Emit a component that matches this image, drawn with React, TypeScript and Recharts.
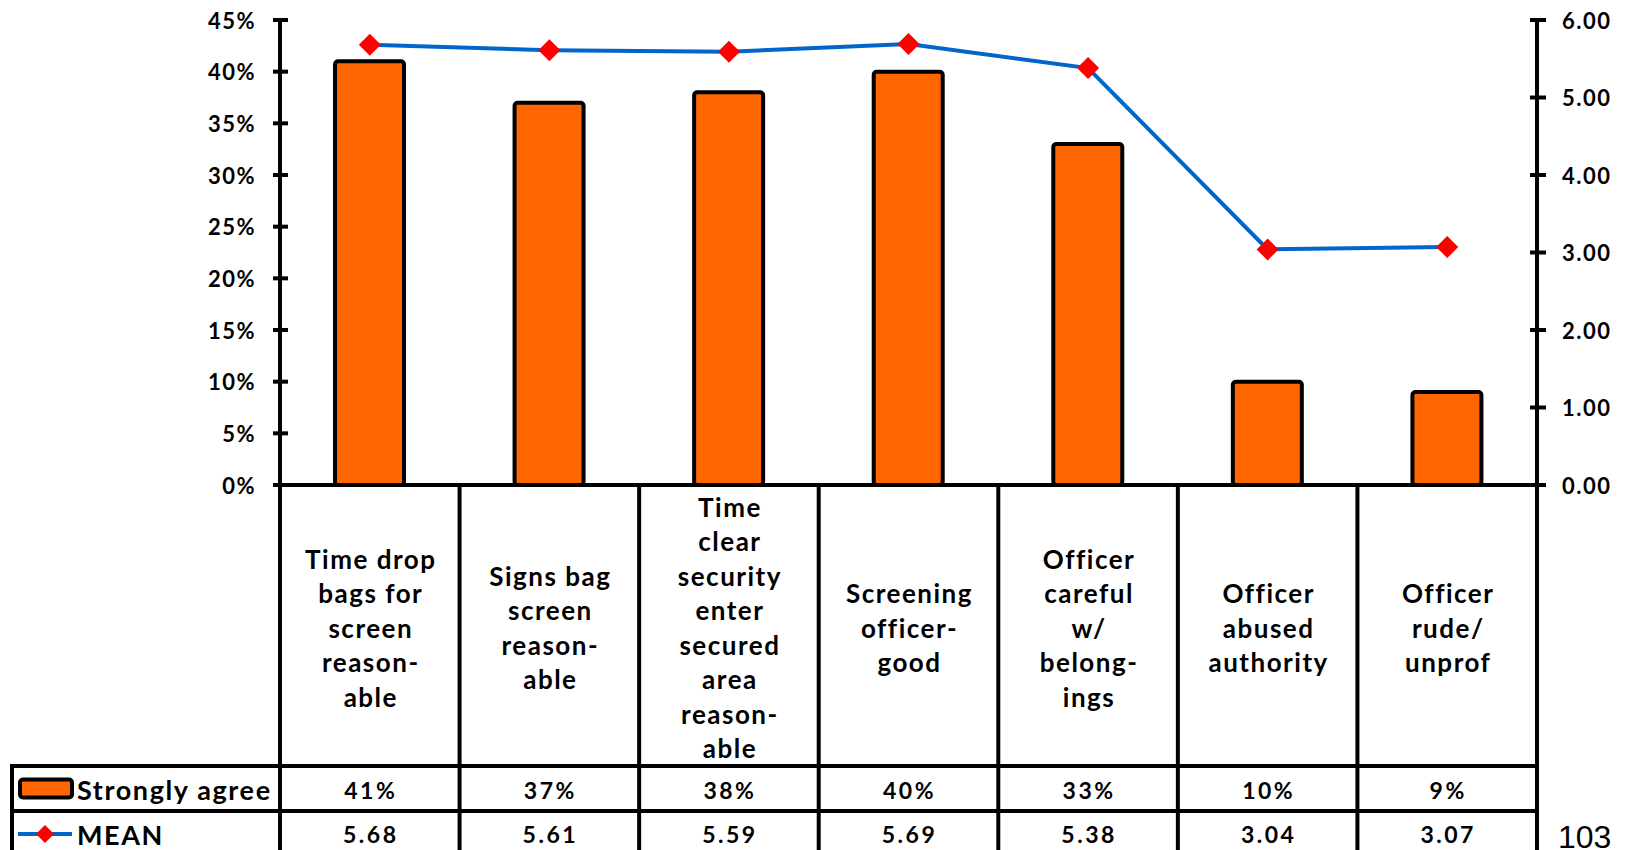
import React from "react";
import { ComposedChart, Bar, Line, XAxis, YAxis } from "recharts";

const categories = [
  "Time drop\nbags for\nscreen\nreason-\nable",
  "Signs bag\nscreen\nreason-\nable",
  "Time\nclear\nsecurity\nenter\nsecured\narea\nreason-\nable",
  "Screening\nofficer-\ngood",
  "Officer\ncareful\nw/\nbelong-\nings",
  "Officer\nabused\nauthority",
  "Officer\nrude/\nunprof",
];
const stronglyAgree = [41, 37, 38, 40, 33, 10, 9];
const meanScores = [5.68, 5.61, 5.59, 5.69, 5.38, 3.04, 3.07];
const pctTicks = [0, 5, 10, 15, 20, 25, 30, 35, 40, 45];
const meanTicks = [0, 1, 2, 3, 4, 5, 6];

const data = categories.map((name, i) => ({
  name,
  agree: stronglyAgree[i],
  mean: meanScores[i],
}));

const FONT = "'Century Gothic', Lato, 'DejaVu Sans', sans-serif";
const ORANGE = "#FF6600";
const BLUE = "#0066CC";
const RED = "#FF0000";

const ROW1_TOP = 766;
const ROW2_TOP = 811;
const TABLE_BOTTOM = 850;

const diamondPath = (cx: number, cy: number, r: number) =>
  `M${cx},${cy - r}L${cx + r},${cy}L${cx},${cy + r}L${cx - r},${cy}Z`;

const Diamond = (props: any) => {
  const { cx, cy, index } = props;
  if (cx == null || cy == null) return <g key={`d-${index}`} />;
  return <path key={`d-${index}`} d={diamondPath(cx, cy, 11)} fill={RED} />;
};

const LeftTick = (props: any) => {
  const { x, y, payload } = props;
  return (
    <g>
      <line x1={x - 7} x2={x + 8} y1={y} y2={y} stroke="#000" strokeWidth={4} />
      <text x={x - 24} y={y} textAnchor="end" dominantBaseline="central"
        fontFamily={FONT} fontWeight={700} fontSize={22} letterSpacing={1.5} fill="#000">
        {`${payload.value}%`}
      </text>
    </g>
  );
};

const RightTick = (props: any) => {
  const { x, y, payload } = props;
  return (
    <g>
      <line x1={x - 7} x2={x + 9} y1={y} y2={y} stroke="#000" strokeWidth={4} />
      <text x={x + 25} y={y} textAnchor="start" dominantBaseline="central"
        fontFamily={FONT} fontWeight={700} fontSize={22} letterSpacing={1.5} fill="#000">
        {Number(payload.value).toFixed(2)}
      </text>
    </g>
  );
};

const TableTick = (props: any) => {
  const { x, y, payload } = props;
  const i = payload.index;
  const half = payload.offset;
  const left = x - half;
  const right = x + half;
  const lines = String(payload.value).split("\n");
  const labelMid = (y + ROW1_TOP) / 2 + 2;
  const lineGap = 34.5;
  const row1Mid = (ROW1_TOP + ROW2_TOP) / 2 + 1;
  const row2Mid = ROW2_TOP + 23;
  const txt = { fontFamily: FONT, fontWeight: 700, fill: "#000" } as const;
  const legLeft = left - 268;

  return (
    <g>
      <line x1={left} x2={left} y1={y} y2={TABLE_BOTTOM} stroke="#000" strokeWidth={4} />
      {i === categories.length - 1 && (
        <line x1={right} x2={right} y1={y} y2={TABLE_BOTTOM} stroke="#000" strokeWidth={4} />
      )}
      <line x1={left} x2={right} y1={ROW1_TOP} y2={ROW1_TOP} stroke="#000" strokeWidth={4} />
      <line x1={left} x2={right} y1={ROW2_TOP} y2={ROW2_TOP} stroke="#000" strokeWidth={4} />
      {lines.map((ln, k) => (
        <text key={k} x={x + 1} y={labelMid + (k - (lines.length - 1) / 2) * lineGap}
          textAnchor="middle" dominantBaseline="central" fontSize={26} letterSpacing={1.5} {...txt}>
          {ln}
        </text>
      ))}
      <text x={x + 1} y={row1Mid} textAnchor="middle" dominantBaseline="central"
        fontSize={23} letterSpacing={2.5} {...txt}>
        {`${stronglyAgree[i]}%`}
      </text>
      <text x={x + 1} y={row2Mid} textAnchor="middle" dominantBaseline="central"
        fontSize={23} letterSpacing={2.5} {...txt}>
        {meanScores[i].toFixed(2)}
      </text>
      {i === 0 && (
        <g>
          <line x1={legLeft} x2={left} y1={ROW1_TOP} y2={ROW1_TOP} stroke="#000" strokeWidth={4} />
          <line x1={legLeft} x2={left} y1={ROW2_TOP} y2={ROW2_TOP} stroke="#000" strokeWidth={4} />
          <line x1={legLeft} x2={legLeft} y1={ROW1_TOP - 2} y2={TABLE_BOTTOM} stroke="#000" strokeWidth={4} />
          <rect x={legLeft + 8} y={row1Mid - 10} width={52} height={18} rx={3}
            fill={ORANGE} stroke="#000" strokeWidth={4} />
          <text x={legLeft + 65} y={row1Mid} dominantBaseline="central" fontSize={27}
            letterSpacing={1.6} {...txt}>
            Strongly agree
          </text>
          <line x1={legLeft + 6} x2={legLeft + 60} y1={row2Mid} y2={row2Mid} stroke={BLUE} strokeWidth={4} />
          <path d={diamondPath(legLeft + 33, row2Mid, 9)} fill={RED} />
          <text x={legLeft + 65} y={row2Mid} dominantBaseline="central" fontSize={27}
            letterSpacing={1.6} {...txt}>
            MEAN
          </text>
        </g>
      )}
    </g>
  );
};

export default function App() {
  return (
    <div style={{ position: "absolute", left: 0, top: 0, width: 1628, height: 850, background: "#fff" }}>
      <ComposedChart width={1628} height={850} data={data}
        margin={{ top: 20, right: 0, bottom: 0, left: 0 }}>
        <XAxis dataKey="name" height={365} interval={0} tickSize={0} tickMargin={0}
          axisLine={{ stroke: "#000", strokeWidth: 4 }} tickLine={false} tick={<TableTick />} />
        <YAxis yAxisId="pct" width={280} domain={[0, 45]} ticks={pctTicks} interval={0}
          tickSize={0} tickMargin={0} tickLine={false}
          axisLine={{ stroke: "#000", strokeWidth: 4 }} tick={<LeftTick />} />
        <YAxis yAxisId="mean" orientation="right" width={91} domain={[0, 6]} ticks={meanTicks}
          interval={0} tickSize={0} tickMargin={0} tickLine={false}
          axisLine={{ stroke: "#000", strokeWidth: 4 }} tick={<RightTick />} />
        <Bar yAxisId="pct" dataKey="agree" barSize={69} fill={ORANGE} stroke="#000"
          strokeWidth={4} radius={3} isAnimationActive={false} />
        <Line yAxisId="mean" dataKey="mean" type="linear" stroke={BLUE} strokeWidth={4}
          dot={Diamond} activeDot={false} isAnimationActive={false} />
      </ComposedChart>
      <svg width={1628} height={850} style={{ position: "absolute", left: 0, top: 0, pointerEvents: "none" }}>
        <text x={1558} y={848} fontFamily="'Liberation Sans', Arial, sans-serif" fontSize={32} fill="#000">
          103
        </text>
      </svg>
    </div>
  );
}
